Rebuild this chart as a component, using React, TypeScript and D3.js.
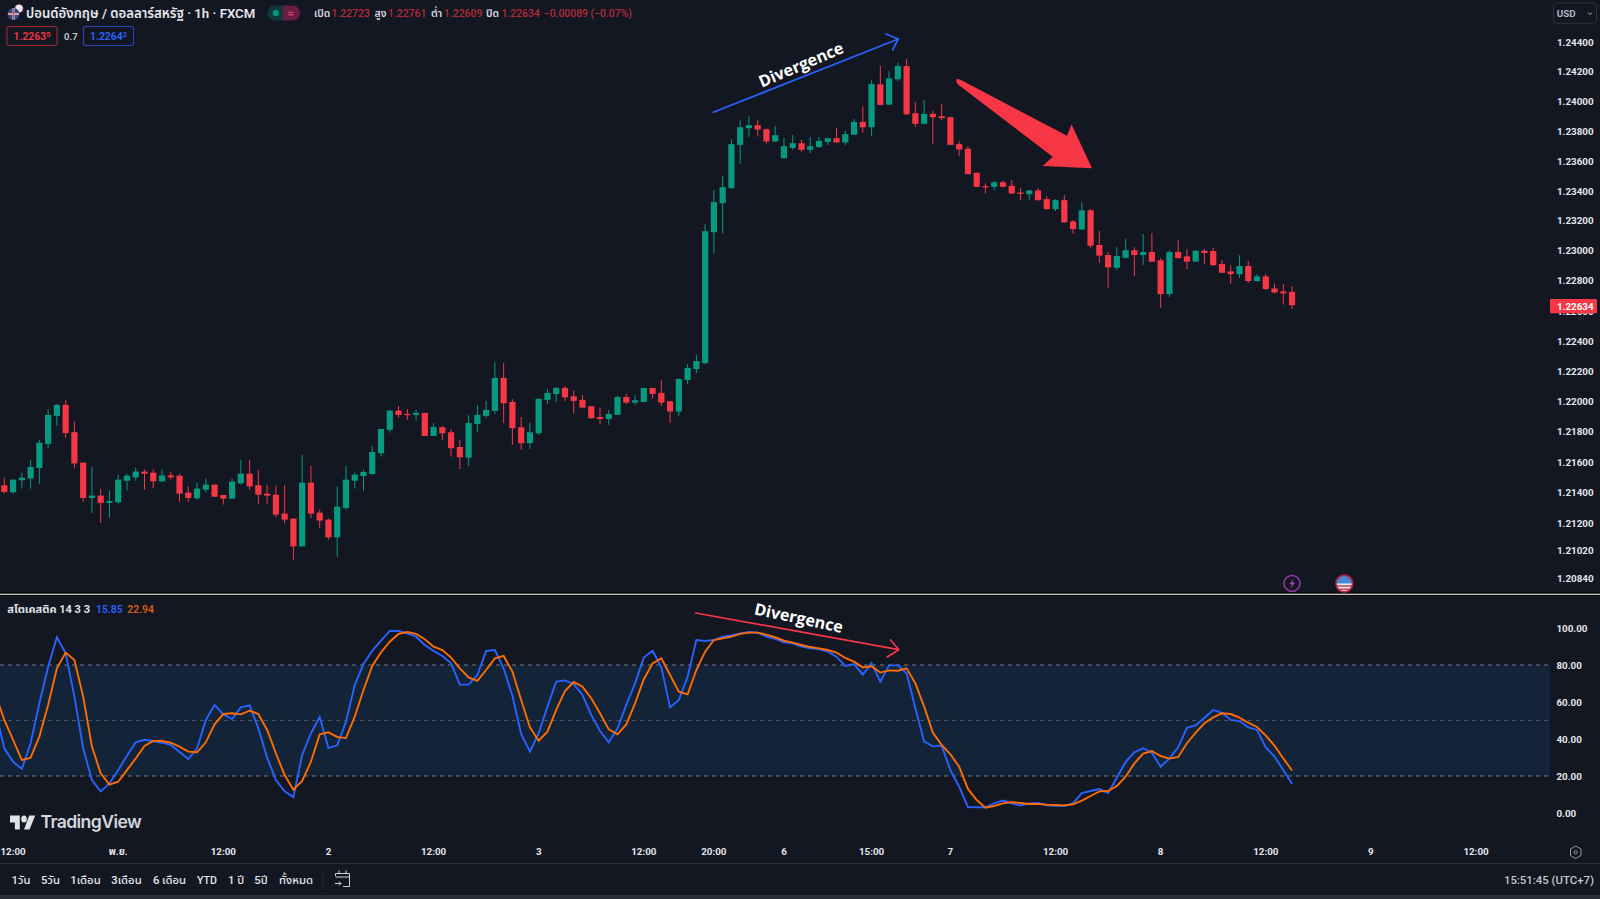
import React from "react";
import * as d3 from "d3";

const opens = [1.21444,1.21398,1.21477,1.21488,1.21558,1.21717,1.21901,1.21974,1.21794,1.21593,1.21361,1.21376,1.21328,1.21332,1.21474,1.21496,1.21534,1.21527,1.21470,1.21509,1.21507,1.21396,1.21358,1.21415,1.21448,1.21380,1.21356,1.21457,1.21520,1.21444,1.21389,1.21382,1.21258,1.21225,1.21043,1.21461,1.21264,1.21218,1.21102,1.21295,1.21474,1.21505,1.21518,1.21655,1.21809,1.21936,1.21914,1.21908,1.21921,1.21769,1.21826,1.21793,1.21696,1.21626,1.21848,1.21901,1.21934,1.22152,1.21993,1.21826,1.21721,1.21787,1.22007,1.22046,1.22086,1.22031,1.22007,1.21965,1.21894,1.21881,1.21908,1.22026,1.21989,1.21993,1.22086,1.22053,1.21998,1.21930,1.22139,1.22211,1.22250,1.23120,1.23314,1.23414,1.23704,1.23816,1.23836,1.23809,1.23727,1.23615,1.23684,1.23715,1.23671,1.23689,1.23724,1.23749,1.23720,1.23771,1.23858,1.23822,1.24110,1.23974,1.24144,1.24233,1.23916,1.23845,1.23912,1.23896,1.23889,1.23709,1.23678,1.23517,1.23428,1.23423,1.23454,1.23430,1.23385,1.23374,1.23399,1.23341,1.23274,1.23334,1.23192,1.23139,1.23266,1.23035,1.22968,1.22884,1.22950,1.23000,1.22968,1.22988,1.22933,1.22708,1.22988,1.22959,1.22924,1.22997,1.22995,1.22908,1.22859,1.22841,1.22895,1.22795,1.22826,1.22746,1.22726,1.22723];
const highs = [1.21494,1.21481,1.21527,1.21612,1.21742,1.21947,1.21980,1.22007,1.21862,1.21593,1.21566,1.21420,1.21409,1.21514,1.21520,1.21560,1.21547,1.21547,1.21547,1.21534,1.21520,1.21435,1.21461,1.21488,1.21450,1.21382,1.21488,1.21612,1.21610,1.21544,1.21448,1.21442,1.21446,1.21225,1.21645,1.21571,1.21284,1.21225,1.21435,1.21573,1.21527,1.21545,1.21703,1.21815,1.21941,1.21967,1.21947,1.21941,1.21921,1.21853,1.21835,1.21815,1.21743,1.21905,1.21974,1.22000,1.22257,1.22251,1.22011,1.21894,1.21855,1.22020,1.22079,1.22092,1.22099,1.22068,1.22040,1.21967,1.21954,1.21941,1.22035,1.22046,1.22037,1.22086,1.22086,1.22136,1.22000,1.22150,1.22244,1.22304,1.23174,1.23403,1.23499,1.23742,1.23869,1.23896,1.23869,1.23814,1.23829,1.23751,1.23771,1.23738,1.23756,1.23756,1.23751,1.23816,1.23798,1.23878,1.23963,1.24137,1.24235,1.24197,1.24257,1.24280,1.23990,1.24005,1.23932,1.23979,1.23894,1.23729,1.23695,1.23519,1.23445,1.23463,1.23465,1.23467,1.23414,1.23401,1.23414,1.23361,1.23341,1.23368,1.23201,1.23321,1.23274,1.23128,1.22988,1.23021,1.23075,1.23021,1.23108,1.23115,1.22948,1.22999,1.23068,1.23008,1.22999,1.23008,1.23015,1.22935,1.22899,1.22966,1.22928,1.22841,1.22841,1.22779,1.22775,1.22761];
const lows = [1.21389,1.21389,1.21424,1.21422,1.21455,1.21689,1.21836,1.21755,1.21555,1.21336,1.21262,1.21196,1.21231,1.21325,1.21411,1.21474,1.21415,1.21426,1.21468,1.21481,1.21336,1.21336,1.21350,1.21396,1.21367,1.21317,1.21356,1.21448,1.21415,1.21323,1.21323,1.21233,1.21194,1.20955,1.21043,1.21229,1.21163,1.21087,1.20975,1.21284,1.21422,1.21406,1.21512,1.21633,1.21791,1.21890,1.21875,1.21868,1.21769,1.21769,1.21743,1.21633,1.21551,1.21571,1.21795,1.21888,1.21914,1.21853,1.21710,1.21677,1.21683,1.21776,1.21980,1.21993,1.22000,1.21919,1.21954,1.21883,1.21848,1.21842,1.21908,1.21980,1.21974,1.21993,1.22015,1.21967,1.21855,1.21901,1.22112,1.22183,1.22244,1.22980,1.23111,1.23412,1.23577,1.23758,1.23760,1.23713,1.23724,1.23613,1.23671,1.23657,1.23649,1.23687,1.23704,1.23718,1.23704,1.23771,1.23785,1.23765,1.23972,1.23972,1.24132,1.23905,1.23825,1.23843,1.23709,1.23872,1.23702,1.23631,1.23506,1.23421,1.23379,1.23401,1.23421,1.23374,1.23334,1.23334,1.23330,1.23272,1.23261,1.23183,1.23110,1.23135,1.23012,1.22917,1.22751,1.22868,1.22944,1.22828,1.22901,1.22921,1.22617,1.22688,1.22942,1.22875,1.22921,1.22908,1.22894,1.22848,1.22779,1.22815,1.22781,1.22790,1.22735,1.22713,1.22639,1.22609];
const closes = [1.21400,1.21481,1.21494,1.21564,1.21724,1.21908,1.21974,1.21788,1.21588,1.21361,1.21376,1.21328,1.21341,1.21481,1.21507,1.21534,1.21520,1.21470,1.21509,1.21496,1.21389,1.21361,1.21422,1.21448,1.21369,1.21356,1.21468,1.21520,1.21437,1.21382,1.21376,1.21251,1.21218,1.21043,1.21461,1.21258,1.21212,1.21102,1.21304,1.21481,1.21514,1.21532,1.21663,1.21815,1.21936,1.21908,1.21908,1.21921,1.21769,1.21828,1.21787,1.21688,1.21628,1.21855,1.21908,1.21941,1.22152,1.21985,1.21820,1.21721,1.21793,1.22013,1.22053,1.22086,1.22024,1.22000,1.21956,1.21886,1.21881,1.21914,1.22026,1.21989,1.22004,1.22086,1.22046,1.21989,1.21930,1.22145,1.22218,1.22264,1.23127,1.23321,1.23421,1.23709,1.23822,1.23836,1.23807,1.23727,1.23769,1.23695,1.23715,1.23671,1.23695,1.23731,1.23749,1.23720,1.23776,1.23858,1.23822,1.24112,1.23972,1.24150,1.24233,1.23909,1.23845,1.23912,1.23889,1.23883,1.23704,1.23673,1.23508,1.23423,1.23425,1.23454,1.23423,1.23379,1.23376,1.23399,1.23334,1.23274,1.23334,1.23186,1.23141,1.23266,1.23030,1.22964,1.22886,1.22961,1.23000,1.22968,1.22988,1.22924,1.22708,1.22988,1.22948,1.22924,1.22997,1.22981,1.22901,1.22850,1.22841,1.22895,1.22795,1.22826,1.22742,1.22719,1.22713,1.22634];

// Stochastic values start one bar before the first candle, off the left edge.
const stochK = [54.8,35.0,27.7,23.8,37.7,59.3,79.1,95.0,86.3,62.9,35.0,17.8,11.7,16.0,23.2,31.0,38.2,39.6,38.9,38.0,36.8,33.0,29.2,35.0,50.3,58.4,53.3,50.8,57.1,58.2,45.8,29.9,17.8,11.7,8.6,31.4,43.1,51.9,35.1,36.6,49.4,69.2,80.5,87.6,93.2,98.4,98.4,97.1,95.3,90.8,87.6,84.9,80.9,69.4,69.4,74.6,87.6,88.1,78.2,63.4,42.7,33.2,43.1,57.5,71.0,71.7,69.7,63.8,53.0,44.3,38.2,45.8,58.4,70.1,84.0,87.7,78.7,57.1,61.1,73.7,93.5,93.0,93.5,95.3,96.0,97.1,97.8,97.5,95.3,94.1,92.3,91.7,89.9,89.0,88.6,87.2,84.5,79.5,80.5,74.8,81.1,71.0,79.8,79.8,75.5,56.6,38.6,36.0,36.4,23.2,14.2,3.2,3.1,3.1,5.2,6.7,5.2,4.1,5.2,5.4,4.1,3.9,3.8,5.2,10.8,11.9,13.0,10.8,19.1,27.7,32.8,35.0,32.6,25.0,29.5,35.5,46.1,47.4,51.5,55.7,54.2,50.3,49.7,46.3,44.9,35.5,30.5,23.2,15.85];
const stochD = [63.8,50.3,39.5,28.6,29.9,41.3,58.4,78.2,86.7,82.7,62.9,35.9,21.4,15.3,16.9,23.2,29.5,36.2,38.9,38.9,38.0,35.9,33.2,32.8,38.2,47.9,53.5,53.9,53.3,55.3,53.5,44.9,32.3,20.5,12.6,17.3,27.7,42.5,43.6,41.1,40.5,52.1,66.5,79.5,86.8,92.6,96.8,97.8,96.8,93.9,89.9,88.1,84.0,78.2,73.3,71.4,77.3,83.6,84.9,76.4,61.1,46.3,39.1,44.0,55.7,65.9,70.8,68.3,62.0,53.9,45.2,42.5,47.9,59.3,72.3,80.9,83.6,74.6,65.6,64.1,77.3,87.2,93.5,94.4,95.3,96.8,97.5,97.5,96.4,95.0,93.2,92.1,90.8,89.7,89.0,88.1,86.7,83.8,81.8,78.7,79.3,75.9,77.1,76.9,78.2,70.1,57.5,43.4,36.8,31.7,25.0,13.0,7.0,2.9,3.8,5.2,5.9,5.4,4.9,4.9,4.5,4.3,4.1,4.7,6.7,9.2,11.7,11.9,14.6,19.6,26.8,32.1,33.5,30.8,29.4,30.3,37.7,43.4,48.5,51.7,53.9,53.5,51.5,48.8,46.5,41.8,36.4,29.5,22.94];

const priceTicks = [1.244,1.242,1.24,1.238,1.236,1.234,1.232,1.23,1.228,1.226,1.224,1.222,1.22,1.218,1.216,1.214,1.212,1.2102,1.2084];
const stochTicks = [100,80,60,40,20,0];
const stochLevels = [80,50,20];
const timeIndex = [1,13,25,37,49,61,73,81,89,99,108,120,132,144,156,168];
const timeLabels = ["12:00","พ.ย.","12:00","2","12:00","3","12:00","20:00","6","15:00","7","12:00","8","12:00","9","12:00"];
const rangeButtons: [string, number][] = [["1วัน",21],["5วัน",50.5],["1เดือน",85.5],["3เดือน",126.5],["6 เดือน",169.5],["YTD",207],["1 ปี",236],["5ปี",261],["ทั้งหมด",296]];
const ohlcPairs: [string, number, string, number][] = [["เปิด",314,"1.22723",331.5],["สูง",374.5,"1.22761",388],["ต่ำ",431,"1.22609",444],["ปิด",486,"1.22634",501.5]];

const BG = "#131722";
const UP = "#089981";
const DOWN = "#F73646";
const FONT = "Roboto, 'Noto Sans', 'Noto Sans Thai', 'Noto Sans CJK SC', sans-serif";
const AXIS = "#e4e6ea";

const x = d3.scaleLinear().domain([0, 147]).range([4.33, 1292.05]);
const yP = d3.scaleLog().domain([1.244, 1.212]).range([41.3, 522.4]);
const yS = d3.scaleLinear().domain([0, 100]).range([813, 628]);

const lineOf = (vals: number[]) =>
  d3.line<number>().x((_, i) => x(i - 1)).y((v) => yS(v))(vals) as string;

function T(p: any) {
  return <text fontFamily={FONT} dominantBaseline="central" {...p} />;
}

export default function App() {
  return (
    <svg width={1600} height={899} viewBox="0 0 1600 899" style={{ position: "fixed", left: 0, top: 0, display: "block" }}>
      <defs>
        <clipPath id="usFlag"><circle cx={1344.3} cy={583.6} r={8} /></clipPath>
      </defs>
      <rect width={1600} height={899} fill={BG} />
      {/* stochastic band */}
      <rect x={0} y={yS(80)} width={1550} height={yS(20) - yS(80)} fill="#132338" />
      {stochLevels.map((l) => (
        <line key={l} x1={0} x2={1550} y1={yS(l)} y2={yS(l)} stroke="#787b86" strokeOpacity={l === 50 ? 0.55 : 1} strokeDasharray="4 4" />
      ))}
      {/* candles */}
      {opens.map((o, i) => {
        const c = closes[i];
        const col = c >= o ? UP : DOWN;
        const top = yP(Math.max(o, c));
        const bot = yP(Math.min(o, c));
        return (
          <g key={i}>
            <line x1={x(i)} x2={x(i)} y1={yP(highs[i])} y2={yP(lows[i])} stroke={col} strokeWidth={1} />
            <rect x={x(i) - 3.1} y={top} width={6.2} height={Math.max(bot - top, 1.2)} fill={col} />
          </g>
        );
      })}
      {/* stochastic lines */}
      <path d={lineOf(stochK)} fill="none" stroke="#2962FF" strokeWidth={1.9} />
      <path d={lineOf(stochD)} fill="none" stroke="#FF6D00" strokeWidth={1.9} />

      {/* upper annotation */}
      <g fill="none" stroke="#2962FF" strokeWidth={1.7} strokeLinecap="round">
        <line x1={713.3} y1={112.3} x2={898.3} y2={39} />
        <polyline points="886,34 898.3,39 892.7,50" />
      </g>
      <T x={801} y={64.5} fill="#fff" fontSize={16.2} fontWeight={700} textAnchor="middle" fontFamily="'Open Sans', 'Noto Sans', sans-serif" transform="rotate(-23 801 64.5)">Divergence</T>
      {/* big arrow */}
      <path d="M957 79 Q955 81 958 84.5 L1052.7 156.7 L1042.7 166 L1092 168.3 L1071.5 124.5 L1067 135.7 L961 80 Q958 78.5 957 79 Z" fill={DOWN} />
      {/* lower annotation */}
      <g fill="none" stroke={DOWN} strokeWidth={1.7} strokeLinecap="round">
        <line x1={695.7} y1={613} x2={898.7} y2={649.7} />
        <polyline points="890.7,640 898.7,649.7 887.3,657" />
      </g>
      <T x={798.8} y={617.7} fill="#fff" fontSize={16.2} fontWeight={700} textAnchor="middle" fontFamily="'Open Sans', 'Noto Sans', sans-serif" transform="rotate(12 798.8 617.7)">Divergence</T>

      {/* pane divider */}
      <rect x={0} y={592.5} width={1600} height={3} fill="#000" />
      <rect x={0} y={593.7} width={1600} height={1.1} fill="#f0f0f0" />

      {/* price axis */}
      {priceTicks.map((t) => (
        <T key={t} x={1557} y={yP(t) + 0.7} fill={AXIS} fontSize={9.8} fontWeight={700}>{t.toFixed(5)}</T>
      ))}
      {stochTicks.map((t) => (
        <T key={t} x={1556.5} y={yS(t)} fill={AXIS} fontSize={9.8} fontWeight={700}>{t.toFixed(2)}</T>
      ))}
      <rect x={1550} y={299} width={47} height={14.3} fill={DOWN} rx={1} />
      <T x={1557} y={306} fill="#fff" fontSize={9.8} fontWeight={700}>{closes[closes.length - 1].toFixed(5)}</T>
      {/* USD */}
      <rect x={1553.5} y={3} width={43} height={20.3} rx={3} fill="none" stroke="#2f333e" />
      <T x={1556.7} y={13.2} fill="#b2b5be" fontSize={9.8} fontWeight={700}>USD</T>
      <path d="M1588 12.5 L1590 14.5 L1592 12.5" fill="none" stroke="#b2b5be" />

      {/* time axis */}
      {timeIndex.map((ti, i) => (
        <T key={i} x={x(ti)} y={851} fill={AXIS} fontSize={9.8} fontWeight={700} textAnchor="middle">{timeLabels[i]}</T>
      ))}
      <path d="M1570.5 849 L1575.7 846 L1581 849 L1581 855.5 L1575.7 858.5 L1570.5 855.5 Z" fill="none" stroke="#9598a1" />
      <circle cx={1575.7} cy={852.3} r={1.6} fill="none" stroke="#9598a1" />
      <line x1={0} x2={1600} y1={863.5} y2={863.5} stroke="#2a2e39" />

      {/* bottom bar */}
      {rangeButtons.map(([l, cx]) => (
        <T key={l} x={cx} y={880} fill={AXIS} fontSize={l === "YTD" ? 10.6 : 11.3} fontWeight={500} textAnchor="middle">{l}</T>
      ))}
      <line x1={322.8} x2={322.8} y1={870} y2={890} stroke="#2a2e39" />
      <g fill="none" stroke="#d1d4dc" strokeWidth={1}>
        <path d="M335.5 876 V873.5 H349.5 V886.5 H343" />
        <path d="M339 870.5 V873.5 M346 870.5 V873.5 M335.5 877 H349.5" />
        <path d="M335 883.5 H341 M339 881.5 L341 883.5 L339 885.5" />
      </g>
      <T x={1594} y={880} fill="#c3c6ce" fontSize={11.4} fontWeight={500} textAnchor="end">15:51:45 (UTC+7)</T>
      <rect x={0} y={895} width={1600} height={4} fill="#2a2e39" />

      {/* header */}
      <circle cx={19} cy={8.5} r={4} fill="#e8e8ee" />
      <circle cx={19} cy={8.5} r={4} fill="none" stroke="#c9505f" strokeWidth={1} strokeDasharray="1.5 1.5" />
      <circle cx={13.5} cy={14} r={6} fill="#2b4a8c" />
      <path d="M8 14 H19 M13.5 8 V20" stroke="#eee" strokeWidth={1.8} />
      <path d="M8 14 H19 M13.5 8 V20" stroke="#d5384a" strokeWidth={0.9} />
      <T x={26} y={13.3} fill="#e4e6ea" fontSize={13.2} fontWeight={600}>ปอนด์อังกฤษ / ดอลลาร์สหรัฐ · 1h · FXCM</T>
      <path d="M283 5.5 H275 A7.5 7.5 0 0 0 275 20.5 H283 Z" fill="#0f3a3d" />
      <path d="M283 5.5 H292.5 A7.5 7.5 0 0 1 292.5 20.5 H283 Z" fill="#6a1c42" />
      <circle cx={275.8} cy={13} r={3.1} fill={UP} />
      <T x={290.5} y={13} fill="#d94a6a" fontSize={11} textAnchor="middle" fontWeight={700}>≈</T>
      {ohlcPairs.map(([k, kx, v, vx]) => (
        <g key={k}>
          <T x={kx} y={13.3} fill="#d8dae0" fontSize={10.4} fontWeight={600}>{k}</T>
          <T x={vx} y={13.3} fill="#b52a38" fontSize={10.4} fontWeight={500}>{v}</T>
        </g>
      ))}
      <T x={543.8} y={13.3} fill="#b52a38" fontSize={10.4} fontWeight={500}>−0.00089 (−0.07%)</T>
      <rect x={7} y={26.5} width={50} height={19} rx={2.5} fill="none" stroke="#a02833" strokeWidth={1.1} />
      <T x={32} y={36} fill={DOWN} fontSize={10.4} fontWeight={600} textAnchor="middle">1.2263<tspan fontSize={7.5} dy={-2}>5</tspan></T>
      <T x={64} y={36} fill="#c9cbd1" fontSize={9.5} fontWeight={600}>0.7</T>
      <rect x={83.5} y={26.5} width={50} height={19} rx={2.5} fill="none" stroke="#2446b8" strokeWidth={1.1} />
      <T x={108.5} y={36} fill="#2962FF" fontSize={10.4} fontWeight={600} textAnchor="middle">1.2264<tspan fontSize={7.5} dy={-2}>2</tspan></T>

      {/* stochastic legend */}
      <T x={7.3} y={609} fill="#e0e2e7" fontSize={11} fontWeight={700}>สโตเคสติค 14 3 3</T>
      <T x={96} y={609} fill="#2962FF" fontSize={10.4} fontWeight={600}>15.85</T>
      <T x={127.3} y={609} fill="#d85f10" fontSize={10.4} fontWeight={600}>22.94</T>

      {/* icons */}
      <circle cx={1292} cy={583.4} r={8} fill="none" stroke="#9a36ad" strokeWidth={1.5} />
      <path d="M1293.8 578 L1289.6 584.2 H1292.2 L1290.4 588.8 L1295 582.4 H1292.2 Z" fill="#ad45c0" />
      <g clipPath="url(#usFlag)">
        <rect x={1336} y={575} width={17} height={17} fill="#eef0f5" />
        <path d="M1336 586 H1353 M1336 589.4 H1353" stroke="#cc3a4c" strokeWidth={1.6} />
        <rect x={1336} y={575} width={17} height={8.5} fill="#4a86d6" />
      </g>
      <circle cx={1344.3} cy={583.6} r={8.4} fill="none" stroke="#b3243a" strokeWidth={1.7} />

      {/* TradingView logo */}
      <g fill="#e0e2e8" transform="translate(10 810.2) scale(0.7 0.88)">
        <path d="M14 6H0v8h7v8h7V6Zm14 16h-8l7.5-16H36l-8 16Z" />
        <circle cx={20} cy={10} r={4} />
      </g>
      <T x={40.5} y={821.5} fill="#d4d6dc" fontSize={17.6} fontWeight={600} fontFamily="Inter, 'Open Sans', sans-serif" letterSpacing={-0.6}>TradingView</T>
    </svg>
  );
}
